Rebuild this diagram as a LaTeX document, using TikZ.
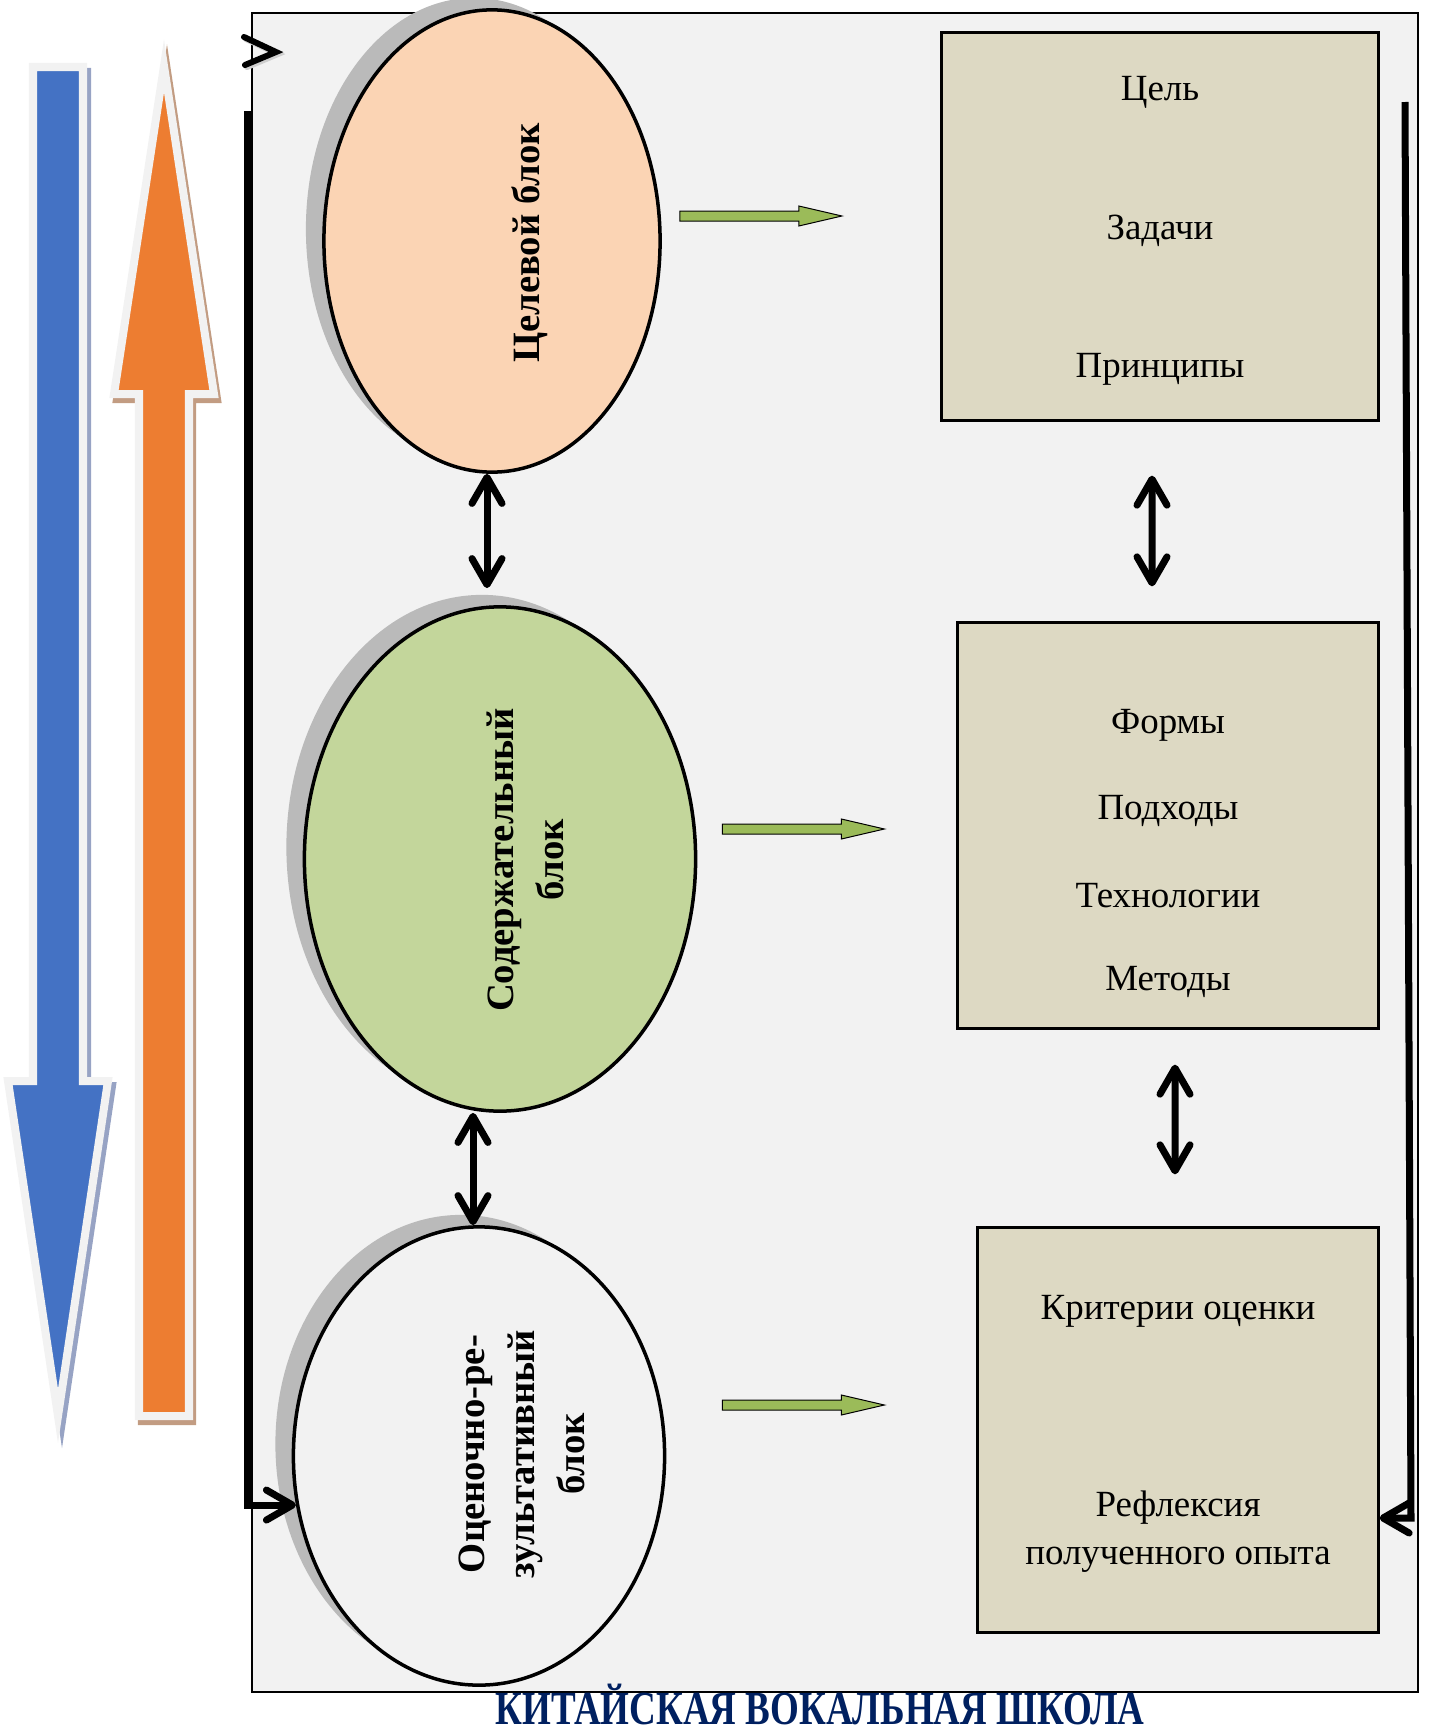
\documentclass[tikz,border=0pt]{standalone}
\usepackage{fontspec}
\setmainfont{Liberation Serif}
\usepackage{graphicx}
\usepackage{tikz}
\usetikzlibrary{arrows.meta,shapes.geometric,shadows,calc,positioning}

\definecolor{framegray}{HTML}{F2F2F2}
\definecolor{shadowgray}{HTML}{BABABA}
\definecolor{peach}{HTML}{FBD4B4}
\definecolor{olivegreen}{HTML}{C3D69B}
\definecolor{boxtan}{HTML}{DDD9C3}
\definecolor{arrowgreen}{HTML}{9BBB59}
\definecolor{navy}{HTML}{002060}
\definecolor{blueA}{HTML}{4472C4}
\definecolor{bluesh}{HTML}{97A3C4}
\definecolor{orangeA}{HTML}{ED7D31}
\definecolor{orangesh}{HTML}{C29C82}

\newcommand{\grarrow}[1]{\draw[grarrow] (#1) -- ++(0,-5) -- ++(119,0) -- ++(0,-5) -- ++(43,10) -- ++(-43,10) -- ++(0,-5) -- ++(-119,0) -- cycle;}

\begin{document}
\begin{tikzpicture}[x=0.01cm,y=-0.01cm,
  frame/.style={draw=black,line width=0.02cm,fill=framegray},
  blockell/.style={ellipse,draw=black,line width=0.035cm,inner sep=0pt,
    drop shadow={shadow xshift=-0.18cm,shadow yshift=0.12cm,fill=shadowgray,opacity=1}},
  blockbox/.style={rectangle,draw=black,line width=0.03cm,fill=boxtan,inner sep=0pt},
  elltext/.style={rotate=90,align=center,inner sep=0pt,font=\fontsize{11}{14.2}\selectfont\bfseries},
  boxtext/.style={inner sep=0pt,font=\fontsize{10.5}{13}\selectfont},
  grarrow/.style={draw=black,line width=0.01cm,fill=arrowgreen},
  dblarrow/.style={line width=0.07cm,>={Straight Barb[length=0.26cm,width=0.3cm,round]},<->},
  fbline/.style={line width=0.07cm,>={Straight Barb[length=0.26cm,width=0.3cm,round]},->},
  bigarrow/.style={line width=0.08cm,line join=miter}]
  \useasboundingbox (0,0) rectangle (1429,1733);

  % background frame
  \draw[frame] (252,13) rectangle (1418,1692);

  % big arrows on the left
  \draw[bigarrow,draw=bluesh,fill=bluesh,shift={(4,5)}] (33,67) -- (83,67) -- (83,1081) -- (108,1081) -- (58,1416) -- (8,1081) -- (33,1081) -- cycle;
  \draw[bigarrow,draw=framegray,fill=blueA] (33,67) -- (83,67) -- (83,1081) -- (108,1081) -- (58,1416) -- (8,1081) -- (33,1081) -- cycle;
  \draw[bigarrow,draw=orangesh,fill=orangesh,shift={(3,5)}] (139,1416) -- (189,1416) -- (189,394) -- (214,394) -- (164,66) -- (114,394) -- (139,394) -- cycle;
  \draw[bigarrow,draw=framegray,fill=orangeA] (139,1416) -- (189,1416) -- (189,394) -- (214,394) -- (164,66) -- (114,394) -- (139,394) -- cycle;

  % blocks
  \path (492,241) node[blockell,fill=peach,minimum width=3.36cm,minimum height=4.62cm] (E1) {};
  \path (500,859) node[blockell,fill=olivegreen,minimum width=3.91cm,minimum height=5.04cm] (E2) {};
  \path (479,1456) node[blockell,fill=framegray,minimum width=3.71cm,minimum height=4.58cm] (E3) {};
  \path (530,243) node[elltext] (L1) {Целевой блок};
  \path (525,860) node[elltext] (L2) {Содержательный\\блок};
  \path (522,1454) node[elltext] (L3) {Оценочно-ре-\\зультативный\\блок};

  % boxes on the right
  \path (1160,226.5) node[blockbox,minimum width=4.36cm,minimum height=3.87cm] (B1) {};
  \path (1168,825.5) node[blockbox,minimum width=4.20cm,minimum height=4.05cm] (B2) {};
  \path (1178,1430) node[blockbox,minimum width=4.00cm,minimum height=4.04cm] (B3) {};
  \path (1160,92) node[boxtext] (T11) {Цель};
  \path (1160,231) node[boxtext] (T12) {Задачи};
  \path (1160,369) node[boxtext] (T13) {Принципы};
  \path (1168,725) node[boxtext] (T21) {Формы};
  \path (1168,811) node[boxtext] (T22) {Подходы};
  \path (1168,896) node[boxtext] (T23) {Технологии};
  \path (1168,982) node[boxtext] (T24) {Методы};
  \path (1178,1311) node[boxtext] (T31) {Критерии оценки};
  \path (1178,1508) node[boxtext] (T32) {Рефлексия};
  \path (1178,1560) node[boxtext] (T33) {полученного опыта};

  % green arrows from blocks to boxes
  \coordinate (G1) at ($(E1.east)+(18,-25)$);
  \coordinate (G2) at ($(E2.east)+(25,-30)$);
  \coordinate (G3) at ($(E3.east)+(56,-51)$);
  \grarrow{G1}
  \grarrow{G2}
  \grarrow{G3}

  % links between blocks
  \draw[dblarrow,shorten >=0.17cm] ([xshift=-0.05cm]E1.south) -- ([xshift=-0.05cm]E1.south |- E2.north);
  \draw[dblarrow] ([xshift=-0.06cm]E3.north |- E2.south) -- ([xshift=-0.06cm]E3.north);
  \draw[dblarrow] ([xshift=-0.08cm,yshift=-0.54cm]B1.south) -- ([xshift=-0.16cm,yshift=0.35cm]B2.north);
  \draw[dblarrow] ([xshift=0.07cm,yshift=-0.35cm]B2.south) -- ([xshift=-0.03cm,yshift=0.52cm]B3.north);

  % feedback lines
  \coordinate (LT) at (247,111);
  \coordinate (RT) at (1405,102);
  \coordinate (RB) at (1411,1518);
  \draw[fbline] (LT) |- (E3.195);
  \draw[fbline] (RT) -- (RB) -- (B3.east |- RB);
  \draw[line width=0.06cm,line cap=round,shadowgray!70] (246,39) -- (278,54) -- (247,67);
  \draw[line width=0.06cm,line cap=round] (244,37) -- (276,52) -- (245,65);

  % title
  \path (820,1724) node[anchor=base,inner sep=0pt,text=navy,font=\fontsize{13.5}{16}\selectfont\bfseries] (TT) {\scalebox{0.78}[1]{КИТАЙСКАЯ ВОКАЛЬНАЯ ШКОЛА}};
\end{tikzpicture}
\end{document}
